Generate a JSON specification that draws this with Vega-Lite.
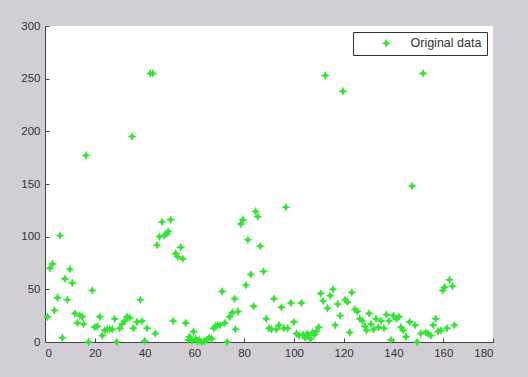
{
  "$schema": "https://vega.github.io/schema/vega-lite/v6.json",
  "width": 448,
  "height": 316,
  "autosize": {"type": "none"},
  "padding": {"left": 45, "top": 26, "right": 35, "bottom": 35},
  "background": "#d1cfd3",
  "view": {"fill": "white", "stroke": null},
  "data": {"values": [
    {"x":1,"y":24},{"x":2,"y":70},{"x":3,"y":74},{"x":3.8,"y":30},{"x":5,"y":42},{"x":6,"y":101},{"x":7,"y":4},{"x":8,"y":60},{"x":9,"y":40},{"x":10,"y":69},
    {"x":11,"y":56},{"x":12,"y":27},{"x":13,"y":18},{"x":14,"y":25},{"x":15,"y":24},{"x":15.5,"y":17},{"x":16.5,"y":177},{"x":17.5,"y":0},{"x":19,"y":49},{"x":20,"y":14},
    {"x":21,"y":15},{"x":22,"y":24},{"x":23,"y":6},{"x":24,"y":11},{"x":25,"y":12},{"x":26,"y":12},{"x":27,"y":12},{"x":28,"y":22},{"x":28.8,"y":0},{"x":30,"y":13},
    {"x":31,"y":17},{"x":32,"y":20},{"x":33,"y":24},{"x":34,"y":23},{"x":35,"y":195},{"x":35.5,"y":13},{"x":37,"y":19},{"x":38.3,"y":40},{"x":39,"y":20},{"x":40,"y":1},
    {"x":41,"y":13},{"x":42.3,"y":255},{"x":43.3,"y":255},{"x":44.3,"y":8},{"x":45,"y":92},{"x":46,"y":100},{"x":47,"y":114},{"x":48,"y":101},{"x":49,"y":103},{"x":49.5,"y":105},
    {"x":50.5,"y":116},{"x":51.5,"y":20},{"x":52.5,"y":84},{"x":53.3,"y":81},{"x":54.5,"y":90},{"x":55.3,"y":79},{"x":56.5,"y":18},{"x":57.5,"y":2},{"x":58,"y":5},{"x":59,"y":1},
    {"x":59.7,"y":10},{"x":60.5,"y":3},{"x":61.3,"y":1},{"x":62,"y":2},{"x":63,"y":0},{"x":64,"y":1},{"x":65,"y":2},{"x":66,"y":4},{"x":67,"y":3},{"x":67.8,"y":13},
    {"x":68.5,"y":15},{"x":69.3,"y":16},{"x":70.3,"y":16},{"x":71.2,"y":48},{"x":72.2,"y":18},{"x":73.2,"y":0},{"x":74.2,"y":24},{"x":75.3,"y":28},{"x":76.2,"y":41},{"x":76.5,"y":12},
    {"x":77.5,"y":29},{"x":78.7,"y":112},{"x":79.5,"y":116},{"x":80.7,"y":54},{"x":81.5,"y":97},{"x":82.7,"y":64},{"x":83.8,"y":34},{"x":84.6,"y":124},{"x":85.5,"y":119},{"x":86.5,"y":91},
    {"x":87.8,"y":67},{"x":88.9,"y":22},{"x":90,"y":13},{"x":91,"y":12},{"x":92,"y":41},{"x":93,"y":12},{"x":94,"y":16},{"x":95,"y":33},{"x":96,"y":13},{"x":96.8,"y":128},
    {"x":97.5,"y":13},{"x":98.8,"y":37},{"x":100,"y":19},{"x":101,"y":8},{"x":102,"y":6},{"x":103,"y":37},{"x":103.7,"y":7},{"x":104.5,"y":4},{"x":105.3,"y":8},{"x":106,"y":6},
    {"x":106.7,"y":3},{"x":107.5,"y":9},{"x":108.3,"y":7},{"x":109,"y":10},{"x":110,"y":14},{"x":110.8,"y":46},{"x":111.7,"y":39},{"x":112.6,"y":253},{"x":113.5,"y":32},{"x":114.6,"y":44},
    {"x":115.7,"y":50},{"x":116.6,"y":16},{"x":117.6,"y":36},{"x":118.6,"y":25},{"x":119.7,"y":238},{"x":120.6,"y":40},{"x":121.5,"y":38},{"x":122.4,"y":9},{"x":123.3,"y":47},{"x":124.5,"y":31},
    {"x":125.5,"y":29},{"x":126.5,"y":22},{"x":127.5,"y":20},{"x":128.5,"y":15},{"x":129.2,"y":11},{"x":130.2,"y":27},{"x":131,"y":17},{"x":132,"y":12},{"x":133,"y":22},{"x":134,"y":14},
    {"x":135,"y":20},{"x":136.2,"y":13},{"x":137.2,"y":26},{"x":138.2,"y":20},{"x":139,"y":2},{"x":140,"y":25},{"x":141.2,"y":22},{"x":142.2,"y":24},{"x":143,"y":14},{"x":144,"y":11},
    {"x":145,"y":5},{"x":146.5,"y":19},{"x":147.5,"y":148},{"x":148.7,"y":16},{"x":149.5,"y":0},{"x":151,"y":8},{"x":151.9,"y":255},{"x":153,"y":9},{"x":154,"y":8},{"x":155,"y":6},
    {"x":156,"y":16},{"x":157,"y":22},{"x":158,"y":10},{"x":159,"y":11},{"x":159.8,"y":49},{"x":160.5,"y":52},{"x":161.5,"y":13},{"x":162.5,"y":59},{"x":163.7,"y":53},{"x":164.5,"y":16}
  ]},
  "transform": [{"calculate": "'Original data'", "as": "series"}],
  "mark": {
    "type": "point",
    "filled": true,
    "opacity": 1,
    "size": 81,
    "shape": "M0,-1L0.32,-0.32L1,0L0.32,0.32L0,1L-0.32,0.32L-1,0L-0.32,-0.32Z"
  },
  "encoding": {
    "x": {"field": "x", "type": "quantitative", "scale": {"domain": [0, 180], "nice": false, "zero": false}, "axis": {"values": [0,20,40,60,80,100,120,140,160,180], "title": null}},
    "y": {"field": "y", "type": "quantitative", "scale": {"domain": [0, 300], "nice": false}, "axis": {"values": [0,50,100,150,200,250,300], "title": null}},
    "color": {"field": "series", "type": "nominal", "scale": {"range": ["#33e533"]}, "legend": {"title": null}}
  },
  "config": {
    "axis": {
      "grid": false,
      "domainColor": "#444",
      "tickColor": "#444",
      "tickSize": -4,
      "labelColor": "#333",
      "labelFont": "Liberation Sans",
      "labelFontSize": 11.5,
      "labelPadding": 9
    },
    "legend": {
      "orient": "top-right",
      "offset": 6,
      "strokeColor": "#333",
      "fillColor": "white",
      "padding": 5,
      "cornerRadius": 0,
      "symbolOffset": 22,
      "labelOffset": 18,
      "labelFont": "Liberation Sans",
      "labelFontSize": 12.5,
      "labelColor": "#333",
      "symbolType": "M0,-1L0.32,-0.32L1,0L0.32,0.32L0,1L-0.32,0.32L-1,0L-0.32,-0.32Z",
      "symbolSize": 81,
      "symbolStrokeWidth": 0
    }
  }
}
